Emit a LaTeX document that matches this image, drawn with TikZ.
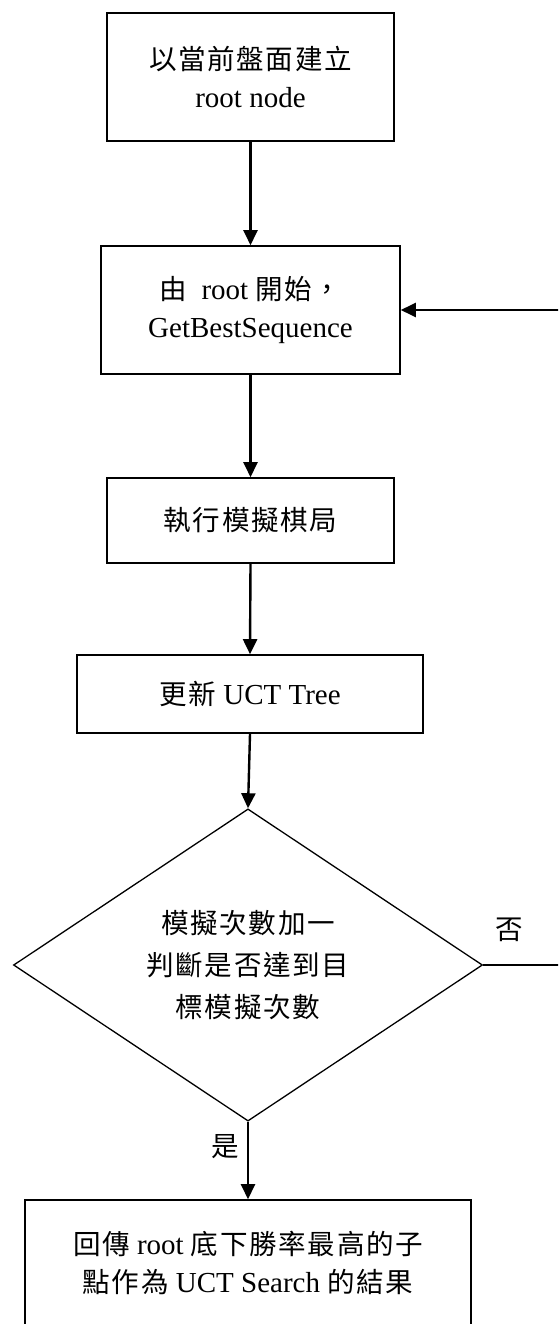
\documentclass[tikz,border=0pt]{standalone}
\usepackage{fontspec}
\setmainfont{Liberation Serif}
\newfontfamily\cjk[Scale=0.95,LetterSpace=6]{Noto Sans CJK TC}
\usetikzlibrary{shapes.geometric,arrows.meta}
\begin{document}
\begin{tikzpicture}[x=1pt,y=-1pt,
  box/.style={draw,line width=1.6pt,rectangle,inner sep=0pt,align=center,
    font=\fontsize{29}{38}\selectfont},
  dec/.style={draw,line width=1.3pt,diamond,inner sep=0pt,align=center,
    font=\fontsize{29}{42}\selectfont},
  lbl/.style={font=\fontsize{29}{38}\selectfont\cjk,inner sep=0pt},
  arr/.style={line width=2.4pt,-{Triangle[width=14pt,length=15pt]}},
  ln/.style={line width=2.4pt}]
\useasboundingbox (0,0) rectangle (558,1324);
\clip (0,0) rectangle (558,1324);
\fill[white] (0,0) rectangle (558,1324);
\node[box,minimum width=287pt,minimum height=128pt] (b1) at (250.5,77)
  {{\cjk 以當前盤面建立}\\root node};
\node[box,minimum width=299pt,minimum height=128pt] (b2) at (250.5,310)
  {{\cjk 由}\ \ root {\cjk 開始，}\\GetBestSequence};
\node[box,minimum width=287pt,minimum height=85pt] (b3) at (250.5,520.5)
  {\cjk 執行模擬棋局};
\node[box,minimum width=346pt,minimum height=78pt] (b4) at (250,694)
  {{\cjk 更新} UCT Tree};
\node[dec,minimum width=469pt,minimum height=299pt] (d) at (248,965)
  {\cjk 模擬次數加一\\\cjk 判斷是否達到目\\\cjk 標模擬次數};
\node[box,minimum width=446pt,minimum height=126pt] (b5) at (248,1263)
  {{\cjk 回傳} root {\cjk 底下勝率最高的子}\\{\cjk 點作為} UCT Search {\cjk 的結果}};
\node[lbl] (no) at (509,930) {否};
\node[lbl] (yes) at (225,1147) {是};
\coordinate (fb) at (570,965);
\draw[arr] (b1.south) -- (b2.north);
\draw[arr] (b2.south) -- (b3.north);
\draw[arr] (b3.south) -- (b4.north);
\draw[arr] (b4.south) -- (d.north);
\draw[arr] (d.south) -- (b5.north);
\draw[arr] (d.east) -- (fb) |- (b2.east);
\end{tikzpicture}
\end{document}
